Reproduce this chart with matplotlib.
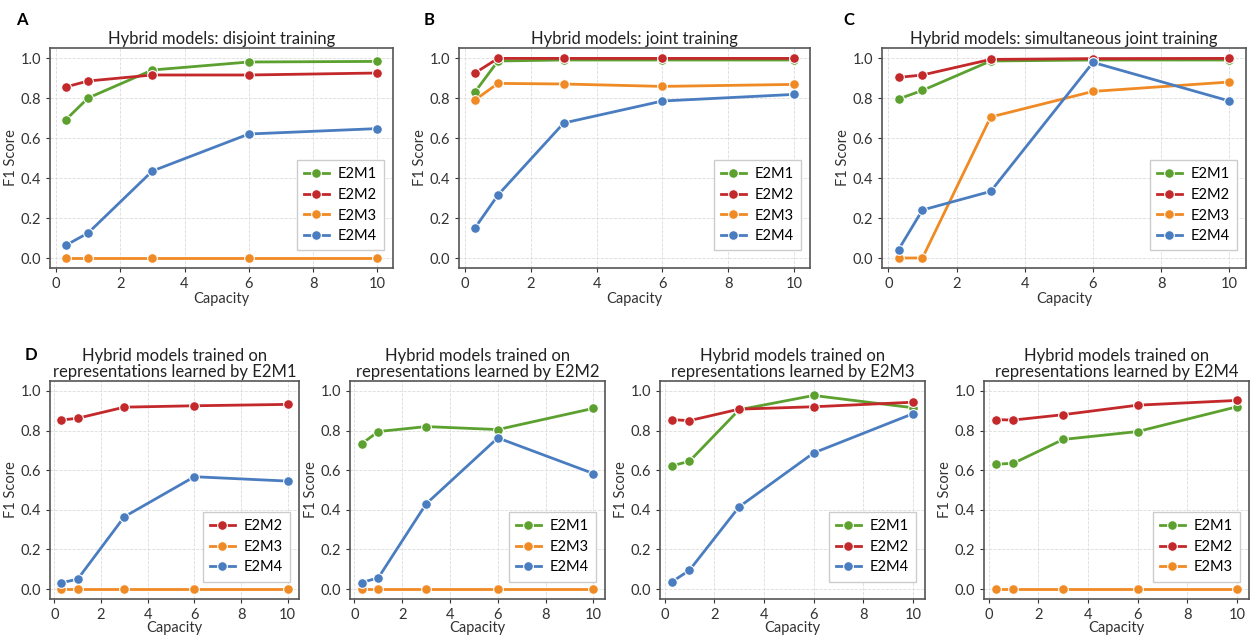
import matplotlib
matplotlib.use("Agg")
import matplotlib.pyplot as plt

plt.rcParams['font.family'] = ['Lato', 'DejaVu Sans']

capacity = [0.3, 1, 3, 6, 10]
colors = {'E2M1': '#5ca12f', 'E2M2': '#c3282b', 'E2M3': '#f08a24', 'E2M4': '#4a7dc0'}

# top row
disjoint = {
    'E2M1': [0.69, 0.80, 0.94, 0.98, 0.983],
    'E2M2': [0.855, 0.885, 0.915, 0.915, 0.925],
    'E2M3': [0.0, 0.0, 0.0, 0.0, 0.0],
    'E2M4': [0.063, 0.125, 0.435, 0.62, 0.647],
}
joint = {
    'E2M1': [0.83, 0.985, 0.99, 0.99, 0.99],
    'E2M2': [0.925, 0.998, 0.998, 0.998, 0.998],
    'E2M3': [0.79, 0.873, 0.87, 0.858, 0.868],
    'E2M4': [0.15, 0.315, 0.675, 0.785, 0.818],
}
simultaneous = {
    'E2M1': [0.795, 0.838, 0.985, 0.99, 0.99],
    'E2M2': [0.903, 0.915, 0.993, 0.997, 0.998],
    'E2M3': [0.0, 0.0, 0.705, 0.833, 0.88],
    'E2M4': [0.042, 0.24, 0.333, 0.978, 0.785],
}
# bottom row
by_e2m1 = {
    'E2M2': [0.853, 0.862, 0.918, 0.925, 0.932],
    'E2M3': [0.0, 0.0, 0.0, 0.0, 0.0],
    'E2M4': [0.032, 0.05, 0.365, 0.567, 0.545],
}
by_e2m2 = {
    'E2M1': [0.733, 0.795, 0.82, 0.805, 0.912],
    'E2M3': [0.0, 0.0, 0.0, 0.0, 0.0],
    'E2M4': [0.033, 0.057, 0.43, 0.763, 0.583],
}
by_e2m3 = {
    'E2M1': [0.622, 0.645, 0.905, 0.977, 0.915],
    'E2M2': [0.855, 0.85, 0.908, 0.92, 0.943],
    'E2M4': [0.037, 0.095, 0.415, 0.687, 0.885],
}
by_e2m4 = {
    'E2M1': [0.63, 0.635, 0.755, 0.795, 0.92],
    'E2M2': [0.855, 0.853, 0.88, 0.928, 0.952],
    'E2M3': [0.0, 0.0, 0.0, 0.0, 0.0],
}

W, H = 1252, 635
fig = plt.figure(figsize=(W / 100, H / 100), dpi=100)


def make_ax(x0, x1, y0, y1):
    return fig.add_axes([x0 / W, 1 - y1 / H, (x1 - x0) / W, (y1 - y0) / H])


def draw(ax, data, title):
    for name, vals in data.items():
        ax.plot(capacity, vals, '-o', color=colors[name], lw=2, ms=7,
                mec='white', mew=0.8, label=name)
    ax.set_ylim(-0.05, 1.05)
    ax.set_xticks([0, 2, 4, 6, 8, 10])
    ax.set_yticks([0.0, 0.2, 0.4, 0.6, 0.8, 1.0])
    ax.grid(True, ls='--', lw=0.6, color='#dcdcdc')
    ax.set_axisbelow(True)
    for s in ax.spines.values():
        s.set_color('#555555')
        s.set_linewidth(1.2)
    ax.tick_params(labelsize=10.5, colors='#333333', length=3)
    ax.set_xlabel('Capacity', fontsize=10.5, color='#333333', labelpad=1)
    ax.set_ylabel('F1 Score', fontsize=10.5, color='#333333', labelpad=2)
    ax.set_title(title, fontsize=12, color='#222222', pad=3, linespacing=1.0)
    w = ax.get_position().width * W
    ax.legend(loc='lower right', bbox_to_anchor=(1 - 9 / w, 0.08),
              borderaxespad=0, fontsize=10.5, frameon=True, framealpha=1,
              edgecolor='#cccccc', fancybox=False, handlelength=1.7,
              handletextpad=0.6, borderpad=0.5, labelspacing=0.45)


ax = make_ax(50, 393, 48, 268)
draw(ax, disjoint, 'Hybrid models: disjoint training')
ax = make_ax(459, 810, 48, 268)
draw(ax, joint, 'Hybrid models: joint training')
ax = make_ax(882, 1246, 48, 268)
draw(ax, simultaneous, 'Hybrid models: simultaneous joint training')

bottom = [(50, 299, by_e2m1, 'E2M1'), (350, 605, by_e2m2, 'E2M2'),
          (660, 925, by_e2m3, 'E2M3'), (984, 1249, by_e2m4, 'E2M4')]
for x0, x1, data, enc in bottom:
    ax = make_ax(x0, x1, 381, 599)
    draw(ax, data, 'Hybrid models trained on\nrepresentations learned by ' + enc)
    ax.xaxis.labelpad = -1

for letter, x, y in [('A', 16, 25), ('B', 424, 25), ('C', 843, 25), ('D', 25, 360)]:
    fig.text(x / W, 1 - y / H, letter, fontsize=12, fontweight='bold')

fig.savefig('out.png', dpi=100)
